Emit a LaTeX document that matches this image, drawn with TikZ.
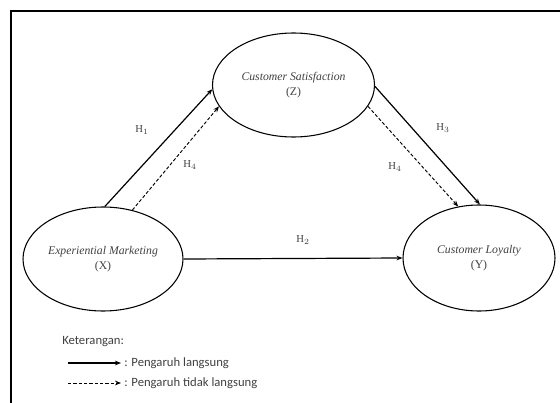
\documentclass[tikz,border=0pt]{standalone}
\usepackage{fontspec}
\setmainfont{Liberation Serif}
\newfontfamily\legendfont{Carlito}
\usetikzlibrary{shapes.geometric,arrows.meta}
\tikzset{
  var/.style={draw, ellipse, line width=0.8pt, inner sep=0pt, align=center,
    font=\fontsize{8.8}{11}\selectfont, text=black!75},
  direct/.style={line width=0.9pt, -{Stealth[length=4.5pt,width=3.5pt]}},
  indirect/.style={line width=0.7pt, dashed, dash pattern=on 2.5pt off 1.5pt, -{Stealth[length=4.5pt,width=3.5pt]}},
  hlab/.style={font=\fontsize{8}{9}\selectfont, text=black!75},
  leg/.style={font=\legendfont\fontsize{9.5}{11}\selectfont, text=black!75, anchor=west, inner sep=0pt},
  frame/.style={line width=1.2pt}
}
\begin{document}
\begin{tikzpicture}[x=0.75pt,y=-0.75pt]
\useasboundingbox (0,0) rectangle (560,403);
% frame
\coordinate (fb) at (11,403);
\coordinate (fc) at (11,11);
\coordinate (fr) at (560,11);
\draw[frame] (fb) -- (fc) -- (fr);
% variables
\node[var, minimum width=121.5pt, minimum height=78pt] (Z) at (293.5,85)
  {\textit{Customer Satisfaction}\\(Z)};
\node[var, minimum width=120pt, minimum height=78pt] (X) at (103,259)
  {\textit{Experiential Marketing}\\(X)};
\node[var, minimum width=114pt, minimum height=79.5pt] (Y) at (479,258)
  {\textit{Customer Loyalty}\\(Y)};
% connectors
\draw[direct] (X.88) -- (Z.183.5);
\draw[indirect] (X.59) -- (Z.196);
\draw[direct] (Z.-1.5) -- (Y.89);
\draw[indirect] (Z.-16.5) -- (Y.112);
\draw[direct] (X.0) -- (Y.180);
% labels
\node[hlab] (h1) at (142,130) {H$_1$};
\node[hlab] (h4a) at (190,165) {H$_4$};
\node[hlab] (h2) at (303,240) {H$_2$};
\node[hlab] (h3) at (443,128) {H$_3$};
\node[hlab] (h4b) at (395,167) {H$_4$};
% legend
\node[leg] (ket) at (62,342) {Keterangan:};
\coordinate (l1a) at (68,363);
\coordinate (l1b) at (121,363);
\coordinate (l2a) at (68,383);
\coordinate (l2b) at (121,383);
\draw[direct] (l1a) -- (l1b);
\draw[indirect] (l2a) -- (l2b);
\node[leg] (lt1) at (124,363) {: Pengaruh langsung};
\node[leg] (lt2) at (124,383) {: Pengaruh tidak langsung};
\end{tikzpicture}
\end{document}
